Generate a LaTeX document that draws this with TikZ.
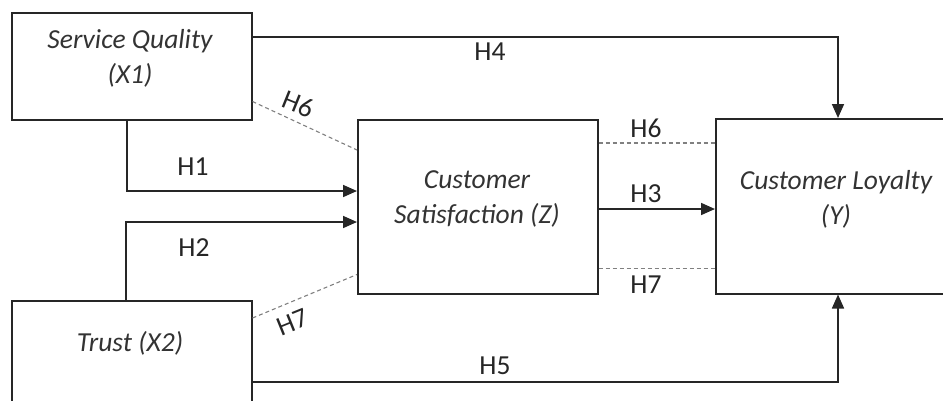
\documentclass[tikz,border=0pt]{standalone}
\usepackage{fontspec}
\setmainfont{Carlito}
\usetikzlibrary{arrows.meta,calc}
\begin{document}
\begin{tikzpicture}[x=1pt,y=1pt,
  box/.style={draw=black!85, line width=1.5pt, rectangle, minimum width=240pt, inner sep=0pt, anchor=north west},
  boxtext/.style={font=\fontsize{27.5}{35}\selectfont\itshape, text=black!80, align=center},
  hlab/.style={font=\fontsize{27.5}{30}\selectfont, text=black!85},
  arr/.style={draw=black!85, line width=1.7pt, -{Triangle[length=14pt,width=12pt]}},
  hdash/.style={draw=black!50, line width=1.1pt, dash pattern=on 4pt off 3pt}]
\useasboundingbox (0,0) rectangle (943,-400);
\clip (0,0) rectangle (943,-400);
% boxes
\node[box, minimum height=107pt] (x1) at (11,-12) {};
\node[box, minimum height=110pt] (x2) at (11,-300) {};
\node[box, minimum height=174pt] (z) at (357,-119) {};
\node[box, minimum width=243pt, minimum height=175pt] (y) at (715,-118) {};
% box texts
\node[boxtext] (x1t) at (130,-58) {Service Quality\\(X1)};
\node[boxtext] (x2t) at (130,-343) {Trust (X2)};
\node[boxtext] (zt) at (477,-199) {Customer\\Satisfaction (Z)};
\node[boxtext] (yt) at (836,-199) {Customer Loyalty\\(Y)};
% solid connectors
\draw[arr] ($(x1.north east)+(0,-25)$) -| ($(y.north west)+(123,0)$);
\draw[arr] ($(x1.south west)+(116,0)$) |- ($(z.north west)+(0,-72)$);
\draw[arr] ($(x2.north west)+(115,0)$) |- ($(z.north west)+(0,-103)$);
\draw[arr] ($(z.north east)+(0,-90)$) coordinate (h3s) -- (h3s -| y.west);
\draw[arr] ($(x2.north east)+(0,-82)$) -| ($(y.south west)+(123,0)$);
% dashed connectors
\draw[hdash] ($(x1.south east)+(0,19)$) -- ($(z.north west)+(0,-31)$);
\draw[hdash] ($(x2.north east)+(0,-18)$) -- ($(z.south west)+(0,20)$);
\draw[hdash] ($(z.north east)+(0,-24)$) coordinate (h6s) -- (h6s -| y.west);
\draw[hdash] ($(z.south east)+(0,26)$) coordinate (h7s) -- (h7s -| y.west);
% labels
\node[hlab] (lh4) at (490,-52) {H4};
\node[hlab] (lh1) at (193,-167) {H1};
\node[hlab] (lh2) at (194,-248) {H2};
\node[hlab, rotate=-22] (lh6a) at (298,-104) {H6};
\node[hlab, rotate=22] (lh7a) at (293,-322) {H7};
\node[hlab] (lh6b) at (646,-128) {H6};
\node[hlab] (lh3) at (646,-194) {H3};
\node[hlab] (lh7b) at (646,-285) {H7};
\node[hlab] (lh5) at (495,-366) {H5};
\end{tikzpicture}
\end{document}
